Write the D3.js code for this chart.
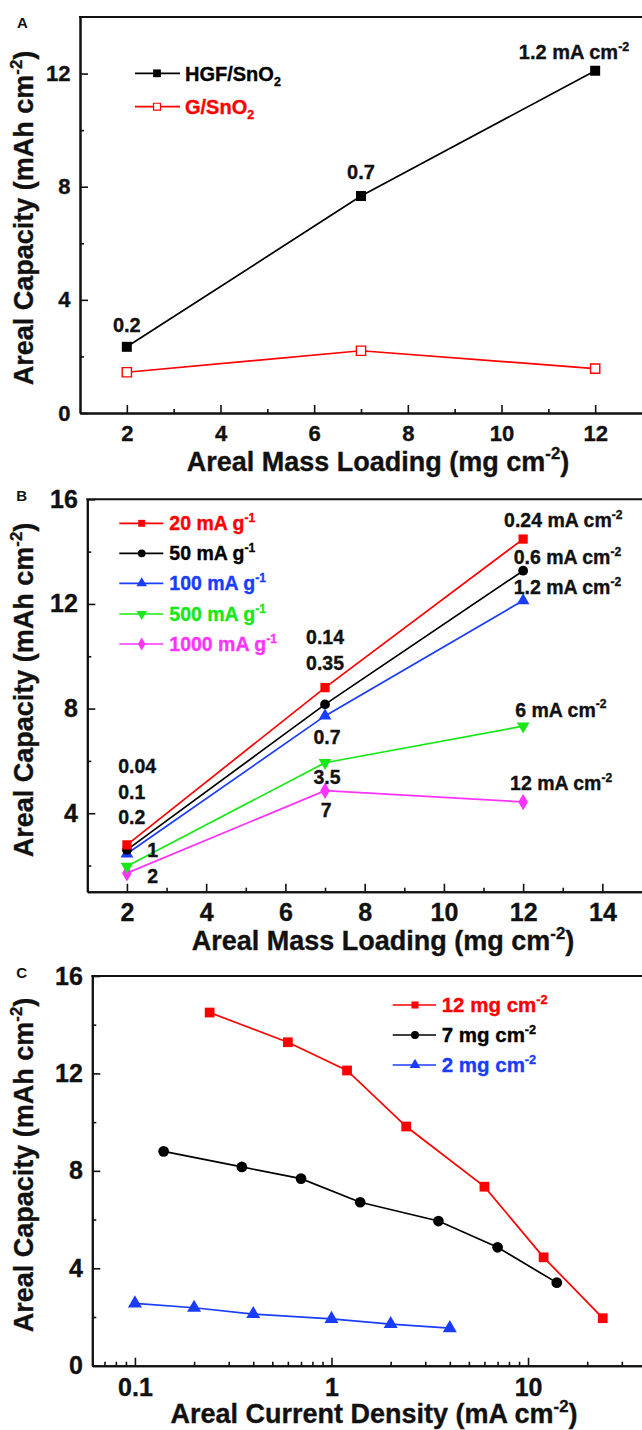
<!DOCTYPE html>
<html><head><meta charset="utf-8">
<script src="https://cdn.jsdelivr.net/npm/d3@7"></script>
<style>
body{margin:0;background:#fff}
svg{display:block}
text{font-family:"Liberation Sans",Arial,Helvetica,sans-serif;font-weight:bold;stroke-width:0.35px;paint-order:stroke}
</style>
</head><body>
<svg id="chart" width="642" height="1430"></svg>
<script>
// ---------- Panel A data ----------
const loadingA = [2, 7, 12];
const hgfA = [2.34, 7.67, 12.1];
const gA = [1.44, 2.2, 1.57];
const ticksAx = [2, 4, 6, 8, 10, 12];
const minorAx = [3, 5, 7, 9, 11];
const ticksAy = [0, 4, 8, 12];
const minorAy = [2, 6, 10];

// ---------- Panel B data ----------
const loadingB = [2, 7, 12];
const b20 = [2.79, 8.8, 14.48];
const b50 = [2.6, 8.16, 13.27];
const b100 = [2.45, 7.72, 12.13];
const b500 = [1.97, 5.93, 7.33];
const b1000 = [1.71, 4.86, 4.43];
const ticksBx = [2, 4, 6, 8, 10, 12, 14];
const minorBx = [3, 5, 7, 9, 11, 13];
const ticksBy = [4, 8, 12, 16];
const minorBy = [2, 6, 10, 14];

// ---------- Panel C data ----------
const c12x = [0.24, 0.6, 1.2, 2.4, 6, 12, 24];
const c12y = [14.5, 13.28, 12.12, 9.82, 7.35, 4.45, 1.95];
const c7x = [0.14, 0.35, 0.7, 1.4, 3.5, 7, 14];
const c7y = [8.8, 8.16, 7.68, 6.71, 5.94, 4.86, 3.41];
const c2x = [0.1, 0.2, 0.4, 1, 2, 4];
const c2y = [2.56, 2.38, 2.12, 1.92, 1.71, 1.54];
const ticksCx = [0.1, 1, 10];
const tickLabelsCx = ["0.1", "1", "10"];
const minorCx = [0.07, 0.08, 0.09, 0.2, 0.3, 0.4, 0.5, 0.6, 0.7, 0.8, 0.9, 2, 3, 4, 5, 6, 7, 8, 9, 20, 30];
const ticksCy = [0, 4, 8, 12, 16];
const minorCy = [2, 6, 10, 14];

// ---------- annotation texts (text, x value, y value) ----------
const annA = [["0.2", 2, 3.11, "middle"], ["0.7", 7, 8.53, "middle"], ["1.2 mA cm", 10.37, 12.77, "start", "-2"]];
const annB = [
  ["0.04", 1.78, 5.80, "start"], ["0.1", 1.78, 4.82, "start"], ["0.2", 1.78, 3.85, "start"],
  ["1", 2.51, 2.58, "start"], ["2", 2.51, 1.61, "start"],
  ["0.14", 7.0, 10.73, "middle"], ["0.35", 7.0, 9.74, "middle"], ["0.7", 7.05, 6.92, "middle"],
  ["3.5", 7.05, 5.37, "middle"], ["7", 7.03, 4.13, "middle"],
  ["0.24 mA cm", 11.52, 15.2, "start", "-2"], ["0.6 mA cm", 11.76, 13.8, "start", "-2"],
  ["1.2 mA cm", 11.76, 12.66, "start", "-2"], ["6 mA cm", 11.8, 7.96, "start", "-2"],
  ["12 mA cm", 11.67, 5.14, "start", "-2"]
];

const RED = "#ff0000", BLACK = "#000000", BLUE = "#1a3cff", GREEN = "#18e818", MAGENTA = "#ff33ff";

const svg = d3.select("#chart");

function rich(g, x, yCenter, parts, fs, color, anchor) {
  const t = g.append("text").attr("x", x).attr("y", yCenter + 0.36 * fs)
    .attr("font-size", fs).attr("fill", color).attr("stroke", color).attr("text-anchor", anchor || "start");
  let off = 0;
  parts.forEach(p => {
    if (typeof p === "string") {
      t.append("tspan").attr("dy", -off).text(p); off = 0;
    } else if (p.sup) {
      const d = -0.42 * fs;
      t.append("tspan").attr("dy", d - off).attr("font-size", fs * 0.62).text(p.sup); off = d;
    } else if (p.sub) {
      const d = 0.25 * fs;
      t.append("tspan").attr("dy", d - off).attr("font-size", fs * 0.62).text(p.sub); off = d;
    }
  });
  return t;
}

function makePanel(cfg) {
  const g = svg.append("g");
  const x = cfg.x, y = cfg.y;
  const [x0, x1] = x.range(), [yb, yt] = y.range();
  const ax = g.append("g").attr("transform", `translate(0,${yb})`)
    .call(d3.axisBottom(x).tickValues(cfg.xt).tickFormat((d, i) => cfg.xl ? cfg.xl[i] : d)
      .tickSize(-8).tickSizeOuter(0).tickPadding(cfg.xpad));
  g.append("g").attr("transform", `translate(0,${yb})`)
    .call(d3.axisBottom(x).tickValues(cfg.xm).tickFormat("").tickSize(-4).tickSizeOuter(0));
  const ay = g.append("g").attr("transform", `translate(${x0},0)`)
    .call(d3.axisLeft(y).tickValues(cfg.yt).tickSize(-8).tickSizeOuter(0).tickPadding(9.5));
  g.append("g").attr("transform", `translate(${x0},0)`)
    .call(d3.axisLeft(y).tickValues(cfg.ym).tickFormat("").tickSize(-4).tickSizeOuter(0));
  g.selectAll(".domain").attr("stroke", "#111").attr("stroke-width", 2);
  g.selectAll(".tick line").attr("stroke", "#111").attr("stroke-width", 1.6);
  [ax, ay].forEach(a => a.selectAll(".tick text").attr("font-size", cfg.tfs).attr("fill", "#111")
    .attr("stroke", "#111")
    .attr("font-family", '"Liberation Sans",Arial,sans-serif').attr("font-weight", "bold"));
  g.append("line").attr("x1", x0 - 1).attr("x2", x1 + 5).attr("y1", yt).attr("y2", yt)
    .attr("stroke", "#111").attr("stroke-width", 2);
  rich(g, cfg.xtx, cfg.xty - 0.36 * 27, ["Areal " + cfg.xtitle + " (" + cfg.xunit + " cm", { sup: "-2" }, ")"], 27, "#111", "middle");
  const yt_ = g.append("g").attr("transform", `translate(33,${cfg.ytc}) rotate(-90)`);
  rich(yt_, 0, -0.36 * 27, ["Areal Capacity (mAh cm", { sup: "-2" }, ")"], 27, "#111", "middle");
  g.append("text").attr("x", cfg.lx).attr("y", cfg.ly).attr("font-size", 15).attr("fill", "#111")
    .attr("text-anchor", "middle").text(cfg.letter);
  return g;
}

function series(g, x, y, xs, ys, color, shape, size, hollow, rot) {
  const pts = xs.map((d, i) => [x(d), y(ys[i])]);
  g.append("path").attr("d", d3.line()(pts)).attr("fill", "none")
    .attr("stroke", color).attr("stroke-width", 1.7);
  g.selectAll(null).data(pts).enter().append("path")
    .attr("d", d3.symbol().type(shape).size(size)())
    .attr("transform", d => `translate(${d[0]},${d[1]})${rot ? " rotate(180)" : ""}`)
    .attr("fill", hollow ? "#fff" : color)
    .attr("stroke", color).attr("stroke-width", hollow ? 1.4 : 0);
}

function legendRow(g, lx1, lx2, mx, tx, yc, color, shape, size, hollow, rot, parts, fs) {
  g.append("line").attr("x1", lx1).attr("x2", lx2).attr("y1", yc).attr("y2", yc)
    .attr("stroke", color).attr("stroke-width", 1.7);
  g.append("path").attr("d", d3.symbol().type(shape).size(size)())
    .attr("transform", `translate(${mx},${yc})${rot ? " rotate(180)" : ""}`)
    .attr("fill", hollow ? "#fff" : color).attr("stroke", color).attr("stroke-width", hollow ? 1.2 : 0);
  rich(g, tx, yc, parts, fs, color, "start");
}

// ---------------- Panel A ----------------
{
  const x = d3.scaleLinear().domain([1, 13]).range([80, 642]);
  const y = d3.scaleLinear().domain([0, 14]).range([413, 17]);
  const g = makePanel({ x, y, xt: ticksAx, xm: minorAx, yt: ticksAy, ym: minorAy, xpad: 12.5, tfs: 22,
    xtx: 378, xty: 470.7, xtitle: "Mass Loading", xunit: "mg", ytc: 218, lx: 22.5, ly: 28.3, letter: "A" });
  series(g, x, y, loadingA, gA, RED, d3.symbolSquare, 85, true);
  series(g, x, y, loadingA, hgfA, BLACK, d3.symbolSquare, 100, false);
  annA.forEach(a => rich(g, x(a[1]), y(a[2]), a[4] ? [a[0], { sup: a[4] }] : [a[0]], 20, "#111", a[3]));
  legendRow(g, 135, 180, 157, 185, 73.3, BLACK, d3.symbolSquare, 60, false, false, ["HGF/SnO", { sub: "2" }], 20);
  legendRow(g, 135, 180, 157, 185, 106.7, RED, d3.symbolSquare, 48, true, false, ["G/SnO", { sub: "2" }], 20);
}

// ---------------- Panel B ----------------
{
  const x = d3.scaleLinear().domain([1, 15]).range([87.3, 642]);
  const y = d3.scaleLinear().domain([1, 16]).range([891.7, 499.3]);
  const g = makePanel({ x, y, xt: ticksBx, xm: minorBx, yt: ticksBy, ym: minorBy, xpad: 11.8, tfs: 25,
    xtx: 383, xty: 950, xtitle: "Mass Loading", xunit: "mg", ytc: 690, lx: 21.7, ly: 500.7, letter: "B" });
  series(g, x, y, loadingB, b1000, MAGENTA, d3.symbolDiamond, 80, false);
  series(g, x, y, loadingB, b500, GREEN, d3.symbolTriangle, 70, false, true);
  series(g, x, y, loadingB, b100, BLUE, d3.symbolTriangle, 70, false);
  series(g, x, y, loadingB, b50, BLACK, d3.symbolCircle, 75, false);
  series(g, x, y, loadingB, b20, RED, d3.symbolSquare, 85, false);
  annB.forEach(a => rich(g, x(a[1]), y(a[2]), a[4] ? [a[0], { sup: a[4] }] : [a[0]], 19.5, "#111", a[3]));
  const rows = [[523.3, RED, d3.symbolSquare, false, "20"], [553.3, BLACK, d3.symbolCircle, false, "50"],
    [583.3, BLUE, d3.symbolTriangle, false, "100"], [614, GREEN, d3.symbolTriangle, true, "500"],
    [644, MAGENTA, d3.symbolDiamond, false, "1000"]];
  rows.forEach(r => legendRow(g, 119.3, 163.3, 141.7, 169.3, r[0], r[1], r[2], 48, false, r[3],
    [r[4] + " mA g", { sup: "-1" }], 19.5));
}

// ---------------- Panel C ----------------
{
  const x = d3.scaleLog().domain([0.0607, 38]).range([92.3, 642]);
  const y = d3.scaleLinear().domain([0, 16]).range([1365.7, 976]);
  const g = makePanel({ x, y, xt: ticksCx, xl: tickLabelsCx, xm: minorCx, yt: ticksCy, ym: minorCy, xpad: 12.2, tfs: 25,
    xtx: 374, xty: 1423, xtitle: "Current Density", xunit: "mA", ytc: 1165, lx: 21.7, ly: 978.3, letter: "C" });
  series(g, x, y, c2x, c2y, BLUE, d3.symbolTriangle, 85, false);
  series(g, x, y, c7x, c7y, BLACK, d3.symbolCircle, 90, false);
  series(g, x, y, c12x, c12y, RED, d3.symbolSquare, 95, false);
  legendRow(g, 392.7, 436, 415, 441.7, 1005, RED, d3.symbolSquare, 50, false, false, ["12 mg cm", { sup: "-2" }], 20.5);
  legendRow(g, 392.7, 436, 415, 441.7, 1035, BLACK, d3.symbolCircle, 50, false, false, ["7 mg cm", { sup: "-2" }], 20.5);
  legendRow(g, 392.7, 436, 415, 441.7, 1065, BLUE, d3.symbolTriangle, 50, false, false, ["2 mg cm", { sup: "-2" }], 20.5);
}
</script>
</body></html>
